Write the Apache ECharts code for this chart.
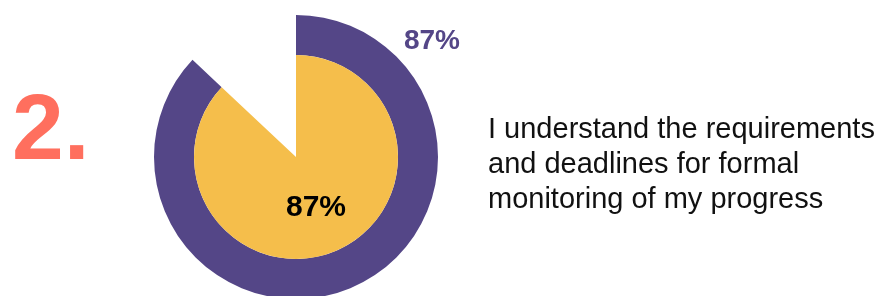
<!DOCTYPE html>
<html>
<head>
<meta charset="utf-8">
<script src="https://cdn.jsdelivr.net/npm/echarts@6/dist/echarts.min.js"></script>
<style>
html,body{margin:0;padding:0;background:#fff;}
#chart{width:887px;height:296px;}
</style>
</head>
<body>
<div id="chart"></div>
<script>
// Data
const itemNumber = '2.';
const outerValue = 87;   // outer ring, %
const innerValue = 87;   // inner pie, %
const statementLines = [
  'I understand the requirements',
  'and deadlines for formal',
  'monitoring of my progress'
];

const PURPLE = '#544687';
const YELLOW = '#F5BE4B';
const CORAL = '#FF6F5E';
const FONT = '"Liberation Sans", Arial, Helvetica, sans-serif';

const chart = echarts.init(document.getElementById('chart'), null, {renderer: 'canvas'});

const textEls = statementLines.map((t, i) => ({
  type: 'text',
  z: 100,
  left: 488,
  top: 115 + i * 35,
  style: {
    text: t,
    font: '29px ' + FONT,
    fill: '#111111',
    textVerticalAlign: 'top'
  }
}));

chart.setOption({
  animation: false,
  backgroundColor: '#ffffff',
  series: [
    {
      type: 'pie',
      center: [296, 157],
      radius: [102, 142],
      startAngle: 90,
      clockwise: true,
      silent: true,
      label: {show: false},
      labelLine: {show: false},
      itemStyle: {borderWidth: 0},
      emphasis: {disabled: true},
      data: [
        {value: outerValue, itemStyle: {color: PURPLE}},
        {value: 100 - outerValue, itemStyle: {color: 'rgba(0,0,0,0)'}}
      ]
    },
    {
      type: 'pie',
      center: [296, 157],
      radius: [0, 102],
      startAngle: 90,
      clockwise: true,
      silent: true,
      label: {show: false},
      labelLine: {show: false},
      itemStyle: {borderWidth: 0},
      emphasis: {disabled: true},
      data: [
        {value: innerValue, itemStyle: {color: YELLOW}},
        {value: 100 - innerValue, itemStyle: {color: 'rgba(0,0,0,0)'}}
      ]
    }
  ],
  graphic: [
    {
      type: 'text',
      z: 100,
      left: 12,
      top: 87,
      style: {
        text: itemNumber,
        font: 'bold 93px ' + FONT,
        fill: CORAL
      }
    },
    {
      type: 'text',
      z: 100,
      x: 432,
      y: 41,
      style: {
        text: outerValue + '%',
        font: 'bold 28px ' + FONT,
        fill: PURPLE,
        textAlign: 'center',
        textVerticalAlign: 'middle'
      }
    },
    {
      type: 'text',
      z: 100,
      x: 316,
      y: 208,
      style: {
        text: innerValue + '%',
        font: 'bold 30px ' + FONT,
        fill: '#000000',
        textAlign: 'center',
        textVerticalAlign: 'middle'
      }
    }
  ].concat(textEls)
});
</script>
</body>
</html>
